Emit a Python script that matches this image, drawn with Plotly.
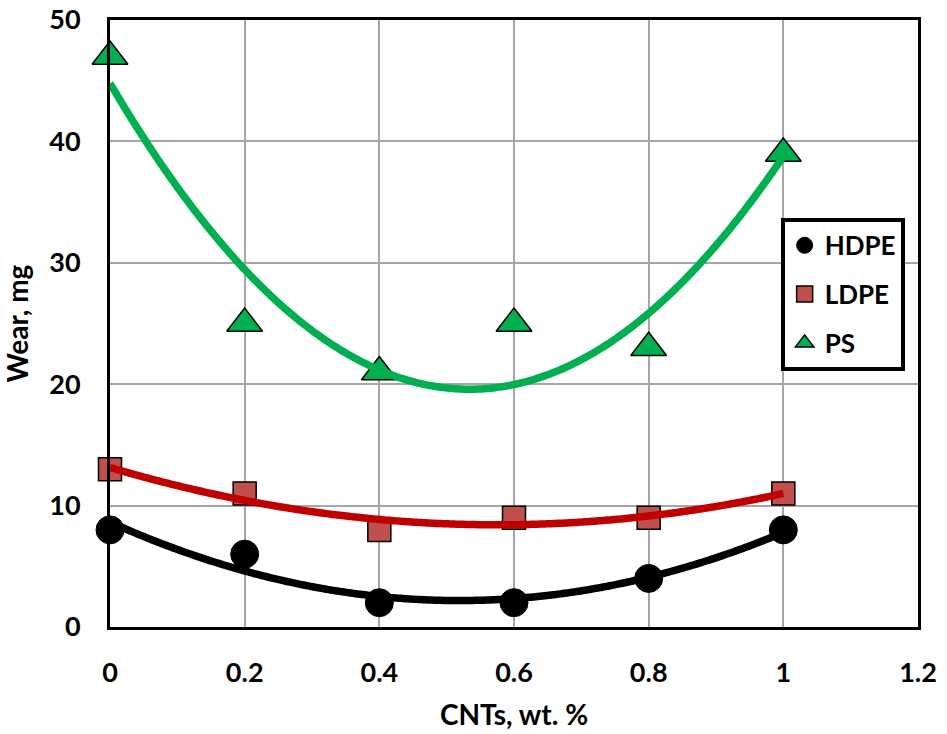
import numpy as np
import plotly.graph_objects as go

cnt = [0, 0.2, 0.4, 0.6, 0.8, 1.0]
hdpe = [8, 6, 2, 2, 4, 8]
ldpe = [13, 11, 8, 9, 9, 11]
ps = [47, 25, 21, 25, 23, 39]

FONT = "Lato"
fig = go.Figure()

series = [
    ("HDPE", hdpe, dict(symbol="circle", size=28, color="black", line=dict(color="black", width=1)), "black"),
    ("LDPE", ldpe, dict(symbol="square", size=23, color="#C0504D", line=dict(color="black", width=1.5)), "#C00000"),
    ("PS", ps, dict(symbol="triangle-up", size=31, color="#00B050", line=dict(color="black", width=1.5)), "#00B050"),
]

xs = np.linspace(0, 1, 300)
for name, ys, mk, lc in series:
    fig.add_trace(go.Scatter(x=cnt, y=ys, mode="markers", name=name, marker=mk,
                             legendgroup=name, showlegend=True, cliponaxis=False))
for name, ys, mk, lc in series:
    coef = np.polyfit(cnt, ys, 2)
    fig.add_trace(go.Scatter(x=xs, y=np.polyval(coef, xs), mode="lines",
                             line=dict(color=lc, width=7.5, simplify=False), showlegend=False,
                             hoverinfo="skip", cliponaxis=False))

axis_common = dict(showgrid=True, gridcolor="#A6A6A6", gridwidth=1.5,
                   zeroline=False, showline=True, linecolor="black", linewidth=3,
                   mirror=True, ticks="", automargin=False,
                   tickfont=dict(family=FONT, size=27, color="black", weight="bold"))

fig.update_layout(
    width=947, height=734,
    margin=dict(l=110, r=29, t=20, b=107),
    paper_bgcolor="white", plot_bgcolor="white",
    font=dict(family=FONT, color="black"),
    xaxis=dict(range=[0, 1.2], tickvals=[0, 0.2, 0.4, 0.6, 0.8, 1.0, 1.2],
               ticktext=["0", "0.2", "0.4", "0.6", "0.8", "1", "1.2"],
               title=dict(text="CNTs, wt. %", font=dict(family=FONT, size=28, weight="bold"), standoff=18),
               ticklabelstandoff=20, **axis_common),
    yaxis=dict(range=[0, 50], dtick=10,
               title=dict(text="Wear, mg", font=dict(family=FONT, size=28, weight="bold"), standoff=24),
               ticklabelstandoff=21, **axis_common),
    legend=dict(x=0.83, y=0.674, xanchor="left", yanchor="top",
                bordercolor="black", borderwidth=4, bgcolor="white",
                font=dict(family=FONT, size=26, weight="bold"),
                tracegroupgap=12, itemwidth=30),
    showlegend=True,
)

fig.write_html("out.html")
